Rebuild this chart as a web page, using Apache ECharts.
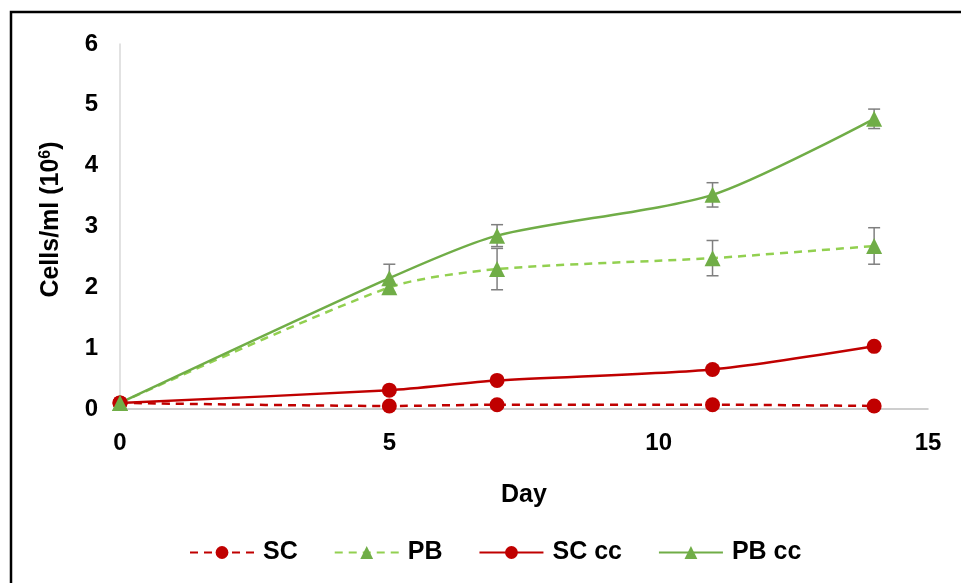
<!DOCTYPE html>
<html>
<head>
<meta charset="utf-8">
<script src="https://cdn.jsdelivr.net/npm/echarts@6/dist/echarts.min.js"></script>
<style>
  html, body { margin: 0; padding: 0; background: #fff; }
  #chart { width: 961px; height: 583px; }
</style>
</head>
<body>
<div id="chart"></div>
<script>
// Sampling days
const days = [0, 5, 7, 11, 14];
// Cell density, 10^6 cells/ml
const sc    = [0.10, 0.05, 0.07, 0.07, 0.05];
const pb    = [0.10, 2.00, 2.30, 2.48, 2.68];
const scCc  = [0.10, 0.31, 0.47, 0.65, 1.03];
const pbCc  = [0.10, 2.15, 2.85, 3.52, 4.77];
// Standard deviations
const pbErr   = [0, 0, 0.34, 0.29, 0.30];
const scCcErr = [0, 0.03, 0.05, 0.06, 0.04];
const pbCcErr = [0, 0.23, 0.18, 0.20, 0.16];
// Axis ticks
const xTicks = { min: 0, max: 15, interval: 5 };
const yTicks = { min: 0, max: 6, interval: 1 };

const RED = '#C00000';
const GREEN = '#70AD47';
const LIGHT_GREEN = '#92D050';
const FONT = 'Liberation Sans, Arial, sans-serif';

const pairs = (xs, ys) => xs.map((x, i) => [x, ys[i]]);
const errData = (xs, ys, es) => xs.map((x, i) => [x, ys[i] - es[i], ys[i] + es[i]]).filter((d, i) => es[i] > 0);

function errorBars(name, data) {
  return {
    name: name,
    type: 'custom',
    z: 1,
    silent: true,
    data: data,
    renderItem: function (params, api) {
      const x = api.value(0);
      const lo = api.coord([x, api.value(1)]);
      const hi = api.coord([x, api.value(2)]);
      const w = 6;
      const style = { stroke: '#7F7F7F', lineWidth: 1.5 };
      return {
        type: 'group',
        children: [
          { type: 'line', shape: { x1: lo[0], y1: lo[1], x2: hi[0], y2: hi[1] }, style: style },
          { type: 'line', shape: { x1: lo[0] - w, y1: lo[1], x2: lo[0] + w, y2: lo[1] }, style: style },
          { type: 'line', shape: { x1: hi[0] - w, y1: hi[1], x2: hi[0] + w, y2: hi[1] }, style: style }
        ]
      };
    }
  };
}

function lineSeries(name, data, color, dashed, symbol, size) {
  return {
    name: name,
    type: 'line',
    z: 3,
    data: data,
    smooth: 0.25,
    symbol: symbol,
    symbolSize: size,
    lineStyle: { color: color, width: 2.5, type: dashed ? [8, 6] : 'solid' },
    itemStyle: { color: symbol === 'triangle' ? GREEN : color },
    emphasis: { disabled: true }
  };
}

const chart = echarts.init(document.getElementById('chart'));
chart.setOption({
  animation: false,
  backgroundColor: '#fff',
  graphic: [{
    type: 'rect',
    shape: { x: 11, y: 12, width: 970, height: 600 },
    style: { fill: 'none', stroke: '#000', lineWidth: 2.5 },
    silent: true
  }],
  grid: { left: 120, right: 33, top: 44, bottom: 174 },
  legend: {
    bottom: 13,
    left: 184,
    itemWidth: 64,
    itemHeight: 16,
    itemGap: 36,
    data: ['SC', 'PB', 'SC cc', 'PB cc'],
    textStyle: { fontFamily: FONT, fontSize: 25, fontWeight: 'bold', color: '#000', padding: [0, 0, 0, 4] }
  },
  xAxis: {
    type: 'value',
    min: xTicks.min, max: xTicks.max, interval: xTicks.interval,
    name: 'Day',
    nameLocation: 'middle',
    nameGap: 74,
    nameTextStyle: { fontFamily: FONT, fontSize: 25, fontWeight: 'bold', color: '#000' },
    axisLine: { lineStyle: { color: '#BFBFBF', width: 1.5 } },
    axisTick: { show: false },
    splitLine: { show: false },
    axisLabel: { fontFamily: FONT, fontSize: 24, fontWeight: 'bold', color: '#000', margin: 22 }
  },
  yAxis: {
    type: 'value',
    min: yTicks.min, max: yTicks.max, interval: yTicks.interval,
    name: 'Cells/ml (10{sup|6})',
    nameLocation: 'middle',
    nameGap: 56,
    nameTextStyle: {
      fontFamily: FONT, fontSize: 25, fontWeight: 'bold', color: '#000',
      padding: [0, 0, 0, 14],
      rich: { sup: { fontFamily: FONT, fontSize: 16, fontWeight: 'bold', color: '#000', verticalAlign: 'top', padding: [0, 0, 10, 0] } }
    },
    axisLine: { show: true, lineStyle: { color: '#D9D9D9', width: 1.5 } },
    axisTick: { show: false },
    splitLine: { show: false },
    axisLabel: { fontFamily: FONT, fontSize: 24, fontWeight: 'bold', color: '#000', margin: 22 }
  },
  series: [
    errorBars('PB err', errData(days, pb, pbErr)),
    errorBars('SC cc err', errData(days, scCc, scCcErr)),
    errorBars('PB cc err', errData(days, pbCc, pbCcErr)),
    lineSeries('SC', pairs(days, sc), RED, true, 'circle', 15),
    lineSeries('PB', pairs(days, pb), LIGHT_GREEN, true, 'triangle', 16),
    lineSeries('SC cc', pairs(days, scCc), RED, false, 'circle', 15),
    lineSeries('PB cc', pairs(days, pbCc), GREEN, false, 'triangle', 16)
  ]
});
</script>
</body>
</html>
